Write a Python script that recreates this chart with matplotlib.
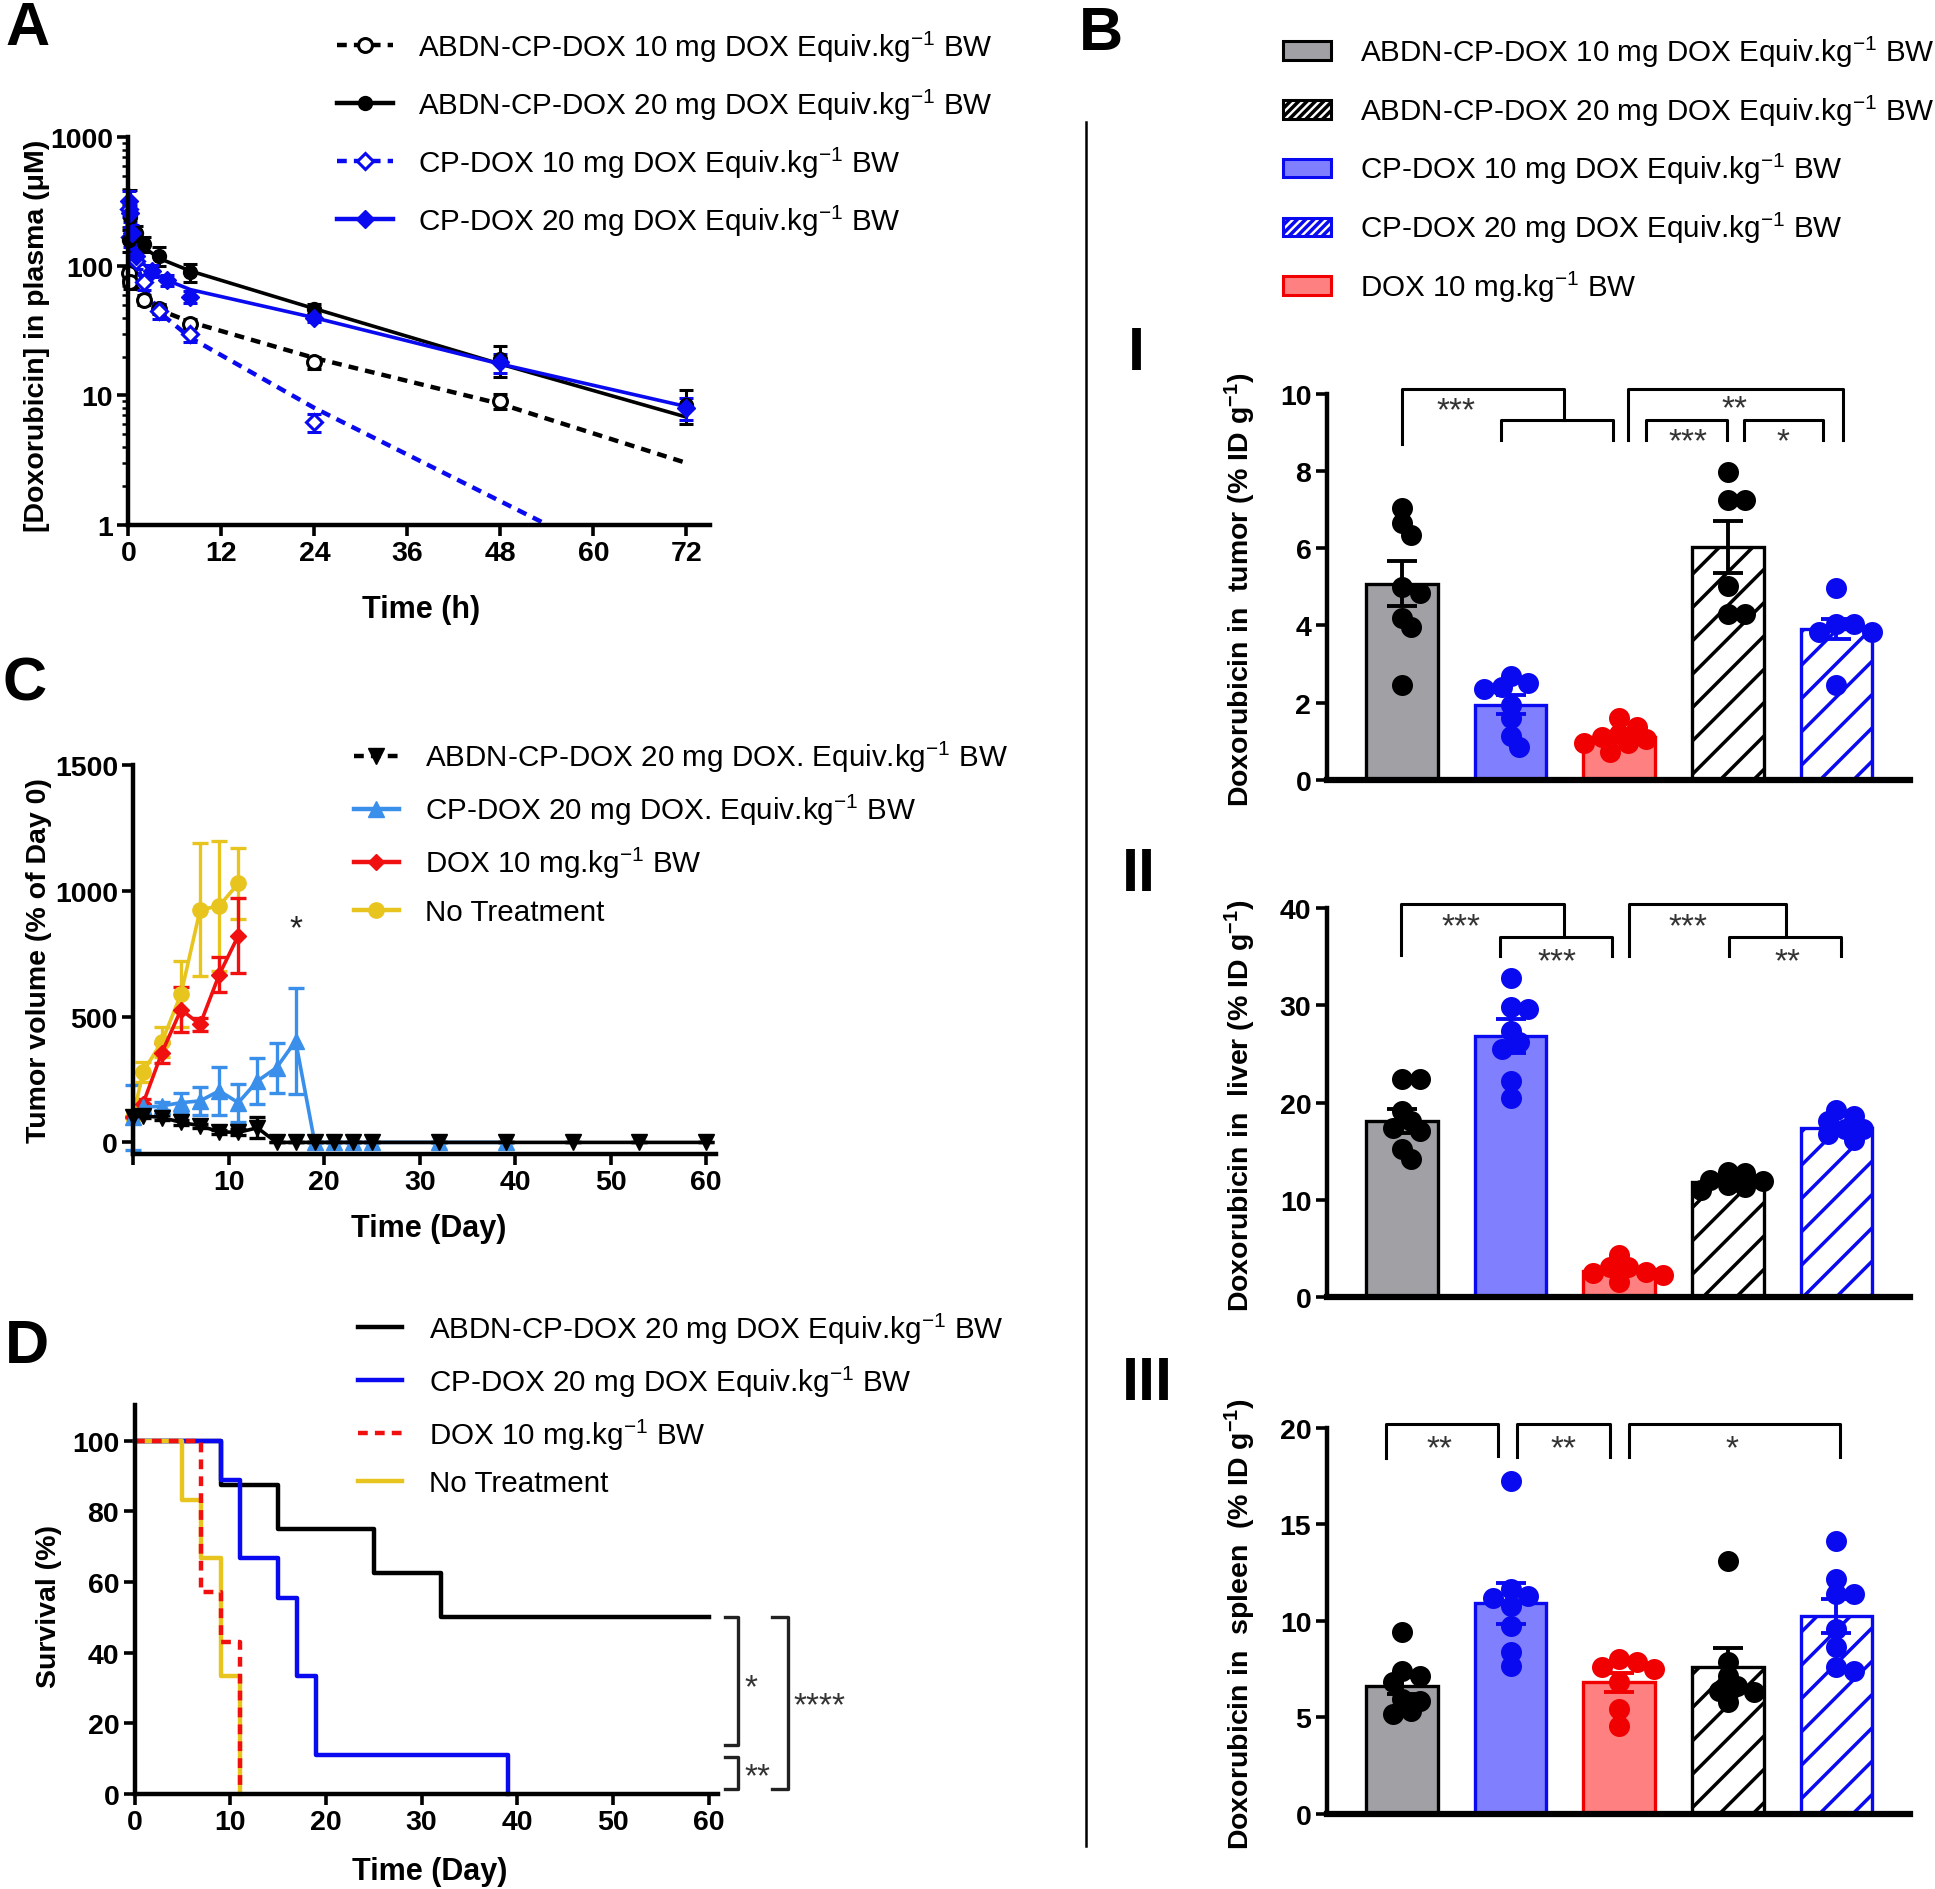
import numpy as np
import matplotlib
matplotlib.use('Agg')
import matplotlib.pyplot as plt
from matplotlib.lines import Line2D
from matplotlib.patches import Patch

# ---------------- A: doxorubicin in plasma ----------------
a_t_abdn10 = [0.083, 0.25, 2, 4, 8, 24, 48]
a_abdn10 = [88, 75, 55, 47, 36, 18, 9]
a_abdn10_err = [10, 8, 5, 4, 3, 2, 1.2]
a_t_abdn20 = [0.083, 0.25, 1, 2, 4, 8, 24, 48, 72]
a_abdn20 = [160, 240, 180, 150, 120, 90, 47, 19, 8.5]
a_abdn20_err = [30, 150, 25, 20, 20, 15, 4, 5, 2.5]
a_t_cp10 = [0.083, 0.25, 1, 2, 4, 8, 24]
a_cp10 = [280, 170, 110, 75, 45, 30, 6.2]
a_cp10_err = [40, 30, 15, 10, 6, 4, 1]
a_t_cp20 = [0.083, 0.25, 0.5, 1, 3, 5, 8, 24, 48, 72]
a_cp20 = [320, 260, 180, 120, 92, 78, 58, 40, 18, 8.0]
a_cp20_err = [60, 40, 30, 15, 10, 8, 6, 3, 3, 1.5]
# fitted curves
fit_t_abdn10 = [0.5, 2, 4, 8, 24, 48, 72]
fit_abdn10 = [75, 58, 46, 37, 19.5, 8.6, 3.0]
fit_t_abdn20 = [0, 1, 2, 4, 8, 24, 48, 72]
fit_abdn20 = [400, 170, 140, 115, 92, 47, 17.5, 6.8]
fit_t_cp10 = [0, 1, 2, 4, 8, 24, 54]
fit_cp10 = [300, 110, 70, 44, 28, 8, 1.0]
fit_t_cp20 = [0, 0.5, 1, 3, 5, 8, 24, 48, 72]
fit_cp20 = [330, 180, 120, 90, 78, 66, 40, 17.5, 8.2]

# ---------------- C: tumour volume ----------------
c_days_nt = [0, 1, 3, 5, 7, 9, 11]
c_nt = [100, 280, 400, 590, 925, 940, 1030]
c_nt_err = [0, 40, 60, 130, 265, 260, 140]
c_days_dox = [0, 1, 3, 5, 7, 9, 11]
c_dox = [100, 152, 357, 528, 469, 667, 822]
c_dox_err = [0, 20, 40, 90, 25, 70, 150]
c_days_cp = [0, 1, 3, 5, 7, 9, 11, 13, 15, 17, 19, 21, 23, 25, 32, 39]
c_cp = [100, 139, 145, 158, 165, 205, 158, 244, 297, 403, 0, 0, 0, 0, 0, 0]
c_cp_err = [130, 15, 15, 40, 55, 95, 75, 90, 100, 210, 0, 0, 0, 0, 0, 0]
c_days_abdn = [0, 1, 3, 5, 7, 9, 11, 13, 15, 17, 19, 21, 23, 25, 32, 39, 46, 53, 60]
c_abdn = [100, 106, 99, 80, 66, 42, 40, 58, 0, 0, 0, 0, 0, 0, 0, 0, 0, 0, 0]
c_abdn_err = [0, 8, 8, 10, 8, 8, 12, 42, 0, 0, 0, 0, 0, 0, 0, 0, 0, 0, 0]

# ---------------- D: survival ----------------
d_t_abdn = [0, 9, 15, 25, 32, 60]
d_abdn = [100, 87.5, 75, 62.5, 50, 50]
d_t_cp = [0, 9, 11, 15, 17, 19, 39]
d_cp = [100, 88.9, 66.7, 55.6, 33.3, 11.1, 0]
d_t_dox = [0, 7, 9, 11]
d_dox = [100, 57.1, 42.9, 0]
d_t_nt = [0, 5, 7, 9, 11]
d_nt = [100, 83.3, 66.7, 33.3, 0]

# ---------------- B: biodistribution (order on x axis) ----------------
b_tumor_pts = [[7.05, 6.65, 6.35, 5.0, 4.85, 4.2, 3.95, 2.45],
               [2.7, 2.5, 2.4, 2.35, 1.95, 1.6, 1.15, 0.85],
               [1.6, 1.37, 1.2, 1.1, 1.07, 0.95, 0.95, 0.73],
               [7.98, 7.25, 7.25, 5.02, 4.3, 4.3],
               [4.98, 4.04, 4.04, 3.82, 3.82, 2.45]]
b_tumor_mean = [5.08, 1.95, 1.1, 6.03, 3.9]
b_tumor_sem = [0.58, 0.25, 0.08, 0.67, 0.26]
b_liver_pts = [[22.4, 22.4, 19.15, 18.1, 17.4, 17.1, 15.2, 14.2],
               [32.8, 29.8, 29.6, 27.4, 26.2, 25.5, 22.2, 20.5],
               [4.3, 3.1, 3.1, 2.6, 2.5, 2.2, 1.5],
               [12.9, 12.7, 12.0, 11.9, 11.5, 11.3, 11.0],
               [19.2, 18.6, 18.1, 17.3, 17.3, 16.8, 16.1]]
b_liver_mean = [18.1, 26.8, 2.7, 11.8, 17.4]
b_liver_sem = [1.2, 1.75, 0.3, 0.3, 0.4]
b_spleen_pts = [[9.4, 7.4, 7.15, 6.8, 5.95, 5.85, 5.34, 5.17],
                [17.25, 11.64, 11.3, 11.2, 10.78, 9.74, 8.36, 7.67],
                [8.0, 7.84, 7.6, 7.5, 6.8, 5.43, 4.57],
                [13.1, 7.84, 7.15, 6.64, 6.38, 6.3, 5.78],
                [14.14, 12.16, 11.38, 11.38, 9.57, 8.62, 7.59, 7.41]]
b_spleen_mean = [6.64, 10.9, 6.81, 7.59, 10.22]
b_spleen_sem = [0.45, 1.05, 0.5, 0.98, 0.88]

lab_abdn10 = 'ABDN-CP-DOX 10 mg DOX Equiv.kg$^{-1}$ BW'
lab_abdn20 = 'ABDN-CP-DOX 20 mg DOX Equiv.kg$^{-1}$ BW'
lab_cp10 = 'CP-DOX 10 mg DOX Equiv.kg$^{-1}$ BW'
lab_cp20 = 'CP-DOX 20 mg DOX Equiv.kg$^{-1}$ BW'
lab_dox = 'DOX 10 mg.kg$^{-1}$ BW'
lab_nt = 'No Treatment'

plt.rcParams['font.family'] = ['Liberation Sans', 'DejaVu Sans']
plt.rcParams['mathtext.default'] = 'regular'
plt.rcParams['hatch.linewidth'] = 2.5
NARROW = ['Liberation Sans Narrow', 'Liberation Sans', 'DejaVu Sans']

W, H = 1568.0, 1532.0   # layout measured on the reference
LEG_FS = 21.3
YLAB_FS = 20.5
STAR_FS = 24


def box(x0, y0, x1, y1):
    return [x0 / W, 1 - y1 / H, (x1 - x0) / W, (y1 - y0) / H]


def style(ax, lw=3.2):
    for s in ['top', 'right']:
        ax.spines[s].set_visible(False)
    ax.spines['left'].set_linewidth(lw)
    ax.spines['bottom'].set_linewidth(lw)
    ax.tick_params(width=2.6, length=8, direction='out', pad=3)


def ticks(ax, xt=None, xl=None, yt=None, yl=None, fs=20.5):
    kw = dict(fontfamily=NARROW, fontweight='bold', fontsize=fs)
    if xt is not None:
        ax.set_xticks(xt, labels=xl if xl is not None else [str(v) for v in xt], **kw)
    if yt is not None:
        ax.set_yticks(yt, labels=yl if yl is not None else [str(v) for v in yt], **kw)


def labels(ax, xlabel, xpos, ylabel, ypos, yfs=YLAB_FS):
    if xlabel:
        ax.set_xlabel(xlabel, fontfamily=NARROW, fontweight='bold', fontsize=22)
        ax.xaxis.set_label_coords(*xpos)
        ax.xaxis.label.set_va('center')
    ax.set_ylabel(ylabel, fontweight='bold', fontsize=yfs)
    ax.yaxis.set_label_coords(*ypos)
    ax.yaxis.label.set_va('center')


fig = plt.figure(figsize=(19.35, 18.9), dpi=100)
BLUE = '#0A0AF0'

# ================= A =================
axA = fig.add_axes(box(104, 112, 575, 426))
axA.set_yscale('log')
axA.set_xlim(0, 75)
axA.set_ylim(1, 1000)
dash = (0, (2.2, 1.6))
axA.plot(fit_t_abdn10, fit_abdn10, color='black', lw=3.2, ls=dash, clip_on=False)
axA.plot(fit_t_cp10, fit_cp10, color=BLUE, lw=3.2, ls=dash, clip_on=False)
axA.plot(fit_t_abdn20, fit_abdn20, color='black', lw=2.6, clip_on=False)
axA.plot(fit_t_cp20, fit_cp20, color=BLUE, lw=2.6, clip_on=False)
ekw = dict(ls='none', elinewidth=2.2, capsize=5, capthick=2.2, clip_on=False)
axA.errorbar(a_t_abdn10, a_abdn10, yerr=a_abdn10_err, color='black', marker='o', ms=10,
             mfc='white', mec='black', mew=2.2, **ekw)
axA.errorbar(a_t_cp10, a_cp10, yerr=a_cp10_err, color=BLUE, marker='D', ms=8,
             mfc='white', mec=BLUE, mew=2.2, **ekw)
axA.errorbar(a_t_abdn20, a_abdn20, yerr=a_abdn20_err, color='black', marker='o', ms=10, **ekw)
axA.errorbar(a_t_cp20, a_cp20, yerr=a_cp20_err, color=BLUE, marker='D', ms=9, **ekw)
style(axA)
ticks(axA, xt=[0, 12, 24, 36, 48, 60, 72], yt=[1, 10, 100, 1000])
axA.tick_params(which='minor', length=4, width=1.8)
axA.yaxis.set_minor_formatter(plt.NullFormatter())
labels(axA, 'Time (h)', (0.503, -0.217), '[Doxorubicin] in plasma (\u03bcM)', (-0.157, 0.49))

hA = [Line2D([], [], color='black', ls=dash, lw=3.2, marker='o', ms=10, mfc='white', mec='black', mew=2.2),
      Line2D([], [], color='black', lw=3.2, marker='o', ms=10),
      Line2D([], [], color=BLUE, ls=dash, lw=3.2, marker='D', ms=8, mfc='white', mec=BLUE, mew=2.2),
      Line2D([], [], color=BLUE, lw=3.2, marker='D', ms=9)]
lkw = dict(loc='upper left', frameon=False, fontsize=LEG_FS, borderpad=0, borderaxespad=0, numpoints=1)
fig.legend(hA, [lab_abdn10, lab_abdn20, lab_cp10, lab_cp20], bbox_to_anchor=(273 / W, 1 - 24 / H),
           handlelength=1.88, handletextpad=0.85, labelspacing=0.77, **lkw)

# ================= C =================
axC = fig.add_axes(box(108, 621, 580, 936))
axC.set_xlim(0, 61)
axC.set_ylim(-45, 1500)
YEL = '#E8C51E'
RED = '#F01010'
LBLUE = '#3A8FEA'
ckw = dict(lw=2.6, elinewidth=2.4, capsize=6, capthick=2.4, clip_on=False)
axC.errorbar(c_days_nt, c_nt, yerr=c_nt_err, color=YEL, marker='o', ms=11, **ckw)
axC.errorbar(c_days_dox, c_dox, yerr=c_dox_err, color=RED, marker='D', ms=8, **ckw)
axC.errorbar(c_days_cp, c_cp, yerr=c_cp_err, color=LBLUE, marker='^', ms=11, **ckw)
axC.errorbar(c_days_abdn, c_abdn, yerr=c_abdn_err, color='black', marker='v', ms=11, **ckw)
axC.text(17, 850, '*', ha='center', va='center', fontsize=STAR_FS, color='#222222')
style(axC)
ticks(axC, xt=[0, 10, 20, 30, 40, 50, 60], xl=['', '10', '20', '30', '40', '50', '60'],
      yt=[0, 500, 1000, 1500])
labels(axC, 'Time (Day)', (0.508, -0.19), 'Tumor volume (% of Day 0)', (-0.161, 0.50))

hC = [Line2D([], [], color='black', ls=dash, lw=3.2, marker='v', ms=11),
      Line2D([], [], color=LBLUE, lw=3.2, marker='^', ms=11),
      Line2D([], [], color=RED, lw=3.2, marker='D', ms=8),
      Line2D([], [], color=YEL, lw=3.2, marker='o', ms=11)]
fig.legend(hC, ['ABDN-CP-DOX 20 mg DOX. Equiv.kg$^{-1}$ BW', 'CP-DOX 20 mg DOX. Equiv.kg$^{-1}$ BW',
                lab_dox, lab_nt], bbox_to_anchor=(287 / W, 1 - 600 / H),
           handlelength=1.5, handletextpad=0.9, labelspacing=0.6, **lkw)

# ================= D =================
axD = fig.add_axes(box(109, 1140, 582, 1455))
axD.set_xlim(0, 61)
axD.set_ylim(0, 110)
axD.step(d_t_abdn, d_abdn, where='post', color='black', lw=3.2, clip_on=False)
axD.step(d_t_cp, d_cp, where='post', color=BLUE, lw=3.2, clip_on=False)
axD.step(d_t_nt, d_nt, where='post', color=YEL, lw=3.2, clip_on=False)
axD.step(d_t_dox, d_dox, where='post', color=RED, lw=3.2, ls=(0, (2.2, 1.6)), clip_on=False)
bkw = dict(color='#222222', lw=2.4, clip_on=False)
axD.plot([61.7, 63.1, 63.1, 61.7], [50.2, 50.2, 14.0, 14.0], **bkw)
axD.plot([61.7, 63.1, 63.1, 61.7], [10.5, 10.5, 1.4, 1.4], **bkw)
axD.plot([66.6, 68.3, 68.3, 66.6], [50.2, 50.2, 1.4, 1.4], **bkw)
skw = dict(ha='left', va='center', fontsize=STAR_FS, color='#333333', clip_on=False)
axD.text(63.7, 30, '*', **skw)
axD.text(63.7, 5.0, '**', **skw)
axD.text(68.9, 25, '****', **skw)
style(axD)
ticks(axD, xt=[0, 10, 20, 30, 40, 50, 60], yt=[0, 20, 40, 60, 80, 100])
labels(axD, 'Time (Day)', (0.505, -0.197), 'Survival (%)', (-0.146, 0.486))

hD = [Line2D([], [], color='black', lw=3.2),
      Line2D([], [], color=BLUE, lw=3.2),
      Line2D([], [], color=RED, lw=3.2, ls=(0, (2.2, 1.6))),
      Line2D([], [], color=YEL, lw=3.2)]
fig.legend(hD, ['ABDN-CP-DOX 20 mg DOX Equiv.kg$^{-1}$ BW', lab_cp20, lab_dox, lab_nt],
           bbox_to_anchor=(290 / W, 1 - 1063 / H),
           handlelength=1.5, handletextpad=0.9, labelspacing=0.6, **lkw)

# ================= B =================
bar_face = ['#A0A0A5', '#8080FF', '#FF8080', 'white', 'white']
bar_edge = ['black', BLUE, '#F00000', 'black', BLUE]
bar_hatch = [None, None, None, '/', '/']
DIAM = 21.0  # dot diameter in pixels


def swarm(ax, vals, diam):
    fw, fh = fig.get_size_inches() * fig.dpi
    pos = ax.get_position()
    x0, x1 = ax.get_xlim()
    y0, y1 = ax.get_ylim()
    sx = pos.width * fw / (x1 - x0)
    sy = pos.height * fh / (y1 - y0)
    placed, offs = [], []
    cands = [0] + [s * i for i in range(1, 12) for s in (1, -1)]
    for v in vals:
        y = v * sy
        for c in cands:
            x = c * diam * 0.42
            if all((x - px) ** 2 + (y - py) ** 2 >= (0.6 * diam) ** 2 for px, py in placed):
                break
        placed.append((x, y))
        offs.append(x / sx)
    return offs


def bar_panel(rect, pts, means, sems, ymax, yt, ylabel, brackets, stars):
    ax = fig.add_axes(rect)
    ax.set_xlim(-0.693, 4.68)
    ax.set_ylim(0, ymax)
    xs = np.arange(len(means))
    for i in xs:
        ax.bar(i, means[i], width=0.66, color=bar_face[i], edgecolor=bar_edge[i],
               hatch=bar_hatch[i], linewidth=2.4, zorder=2)
        offs = swarm(ax, pts[i], DIAM)
        ax.scatter(i + np.array(offs), pts[i], s=(DIAM * 0.72) ** 2, color=bar_edge[i],
                   zorder=3, linewidths=0)
        ax.errorbar(i, means[i], yerr=sems[i], color=bar_edge[i], elinewidth=2.8,
                    capsize=11, capthick=2.8, zorder=4)
    for xl, xr, top, yl, yr in brackets:
        ax.plot([xl, xl, xr, xr], [yl, top, top, yr], color='black', lw=2.2, clip_on=False, zorder=5)
    for sx, sy, s in stars:
        ax.text(sx, sy, s, ha='center', va='center', fontsize=STAR_FS, color='#333333')
    style(ax)
    ax.spines['bottom'].set_linewidth(4.5)
    ax.tick_params(axis='x', length=0)
    ax.set_xticks([])
    ticks(ax, yt=yt)
    labels(ax, None, None, ylabel, (-0.148, 0.495))
    return ax


bar_panel(box(1075, 320, 1548, 633), b_tumor_pts, b_tumor_mean, b_tumor_sem, 10, [0, 2, 4, 6, 8, 10],
          'Doxorubicin in  tumor (% ID g$^{-1}$)',
          [(0.0, 1.49, 10.13, 8.71, 9.31), (0.91, 1.94, 9.31, 8.81, 8.81),
           (2.08, 4.06, 10.13, 8.81, 8.81), (2.25, 2.99, 9.31, 8.81, 8.81),
           (3.15, 3.88, 9.31, 8.81, 8.81)],
          [(0.5, 9.55, '***'), (3.06, 9.6, '**'), (2.63, 8.75, '***'), (3.51, 8.75, '*')])
bar_panel(box(1075, 737, 1548, 1052), b_liver_pts, b_liver_mean, b_liver_sem, 40, [0, 10, 20, 30, 40],
          'Doxorubicin in  liver (% ID g$^{-1}$)',
          [(-0.01, 1.49, 40.41, 35.2, 37.26), (0.905, 1.93, 36.99, 35.04, 35.04),
           (2.09, 3.54, 40.41, 35.04, 37.26), (3.01, 4.04, 36.99, 35.04, 35.04)],
          [(0.54, 38.1, '***'), (1.43, 34.5, '***'), (2.63, 38.1, '***'), (3.55, 34.5, '**')])
bar_panel(box(1075, 1158, 1548, 1471), b_spleen_pts, b_spleen_mean, b_spleen_sem, 20, [0, 5, 10, 15, 20],
          'Doxorubicin in  spleen  (% ID g$^{-1}$)',
          [(-0.147, 0.884, 20.2, 18.45, 18.53), (1.06, 1.92, 20.2, 18.5, 18.5),
           (2.09, 4.03, 20.2, 18.5, 18.5)],
          [(0.345, 18.9, '**'), (1.49, 18.9, '**'), (3.04, 18.9, '*')])

hB = [Patch(facecolor=bar_face[0], edgecolor=bar_edge[0], lw=2.2),
      Patch(facecolor='white', edgecolor='black', hatch='////', lw=2.2),
      Patch(facecolor=bar_face[1], edgecolor=BLUE, lw=2.2),
      Patch(facecolor='white', edgecolor=BLUE, hatch='////', lw=2.2),
      Patch(facecolor=bar_face[2], edgecolor='#F00000', lw=2.2)]
fig.legend(hB, [lab_abdn10, lab_abdn20, lab_cp10, lab_cp20, lab_dox], bbox_to_anchor=(1040 / W, 1 - 28 / H),
           handlelength=1.6, handleheight=0.6, handletextpad=1.0, labelspacing=0.8, **lkw)

# ---- panel letters, roman numerals, divider ----
for txt, x, y in [('A', 22, 24), ('B', 892, 28), ('C', 20, 555), ('D', 22, 1092)]:
    fig.text(x / W, 1 - y / H, txt, fontsize=44, fontweight='bold', ha='center', va='center')
for txt, x, y in [('I', 921, 287), ('II', 923, 710), ('III', 930, 1122)]:
    fig.text(x / W, 1 - y / H, txt, fontsize=44, fontweight='bold', ha='center', va='center')
fig.add_artist(Line2D([880 / W, 880 / W], [1 - 100 / H, 1 - 1497 / H], color='black', lw=1.8,
                      transform=fig.transFigure))

fig.savefig('out.png', dpi=100)
